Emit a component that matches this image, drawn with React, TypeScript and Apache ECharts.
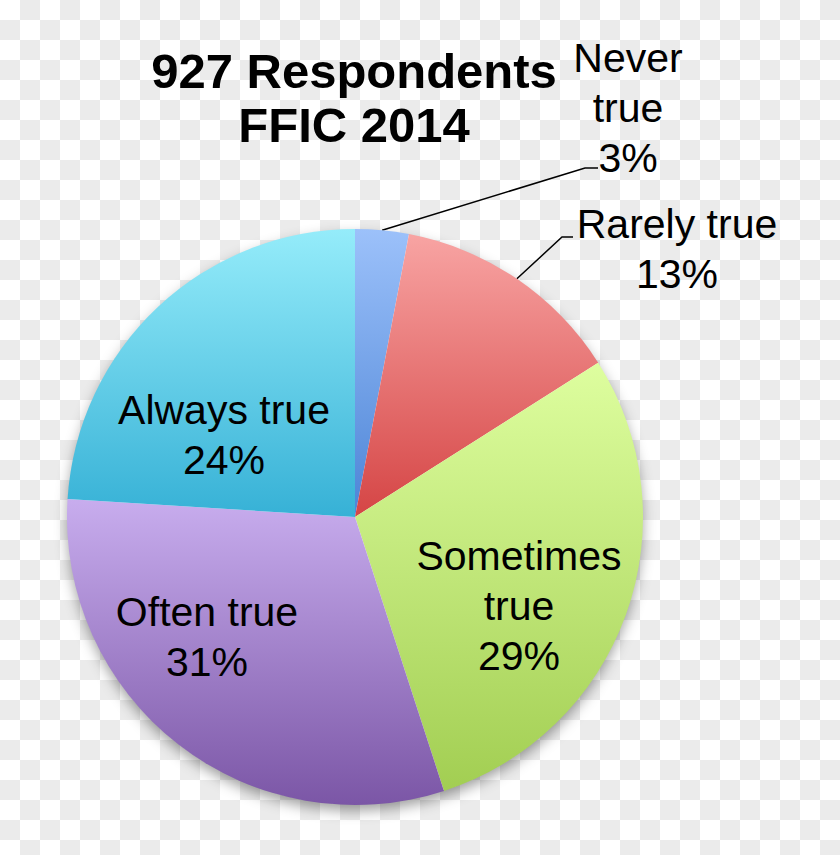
import React, { useEffect, useRef } from "react";
import * as echarts from "echarts";

// slices clockwise from 12 o'clock
const categories = ["Never true", "Rarely true", "Sometimes true", "Often true", "Always true"];
const percents = [3, 13, 29, 31, 24];

const titleText = "927 Respondents\nFFIC 2014";

// top / bottom colour of each slice's gradient
const sliceColors = [
  ["#9cc1fa", "#4c84d6"],
  ["#f8a4a3", "#d54545"],
  ["#defe9f", "#a2ce52"],
  ["#c8adee", "#7b56a6"],
  ["#95ecfa", "#36b1d6"],
];

// label placement (office-style best fit)
const outsideLabel = [true, true, false, false, false];
const wrapName = [true, false, true, false, false];
const labelCenters = [
  [628, 108],
  [677, 249],
  [519, 606],
  [207, 637],
  [224, 435],
];
const leaderBends: (number[][] | null)[] = [
  [
    [585, 168],
    [598, 168],
  ],
  [
    [562, 237],
    [573, 237],
  ],
  null,
  null,
  null,
];

const FONT = "'Liberation Sans', Arial, sans-serif";

export default function App() {
  const chartRef = useRef<HTMLDivElement>(null);

  useEffect(() => {
    if (!chartRef.current) return;
    const chart = echarts.init(chartRef.current, null, { renderer: "svg" });

    const data = categories.map((name, i) => ({
      name,
      value: percents[i],
      itemStyle: {
        color: new echarts.graphic.LinearGradient(0, 0, 0, 1, [
          { offset: 0, color: sliceColors[i][0] },
          { offset: 1, color: sliceColors[i][1] },
        ]),
      },
      label: { position: outsideLabel[i] ? "outside" : "inside" },
      labelLine: { show: outsideLabel[i] },
    }));

    const option = {
      animation: false,
      backgroundColor: "transparent",
      title: {
        text: titleText,
        left: 354,
        top: 44,
        padding: 0,
        textAlign: "center",
        textStyle: {
          fontFamily: FONT,
          fontSize: 49,
          fontWeight: "bold",
          lineHeight: 54,
          color: "#000",
        },
      },
      series: [
        {
          // drop shadow under the whole pie
          type: "pie",
          z: 1,
          silent: true,
          center: [355, 517],
          radius: 287,
          label: { show: false },
          labelLine: { show: false },
          emphasis: { disabled: true },
          itemStyle: {
            color: "#ffffff",
            shadowBlur: 14,
            shadowOffsetY: 6,
            shadowColor: "rgba(0,0,0,0.4)",
          },
          data: [{ value: 1, name: "" }],
        },
        {
          name: "FFIC 2014",
          type: "pie",
          z: 2,
          center: [355, 517],
          radius: 288,
          startAngle: 90,
          clockwise: true,
          avoidLabelOverlap: false,
          emphasis: { disabled: true },
          label: {
            show: true,
            fontFamily: FONT,
            fontSize: 41,
            lineHeight: 50,
            color: "#000",
            formatter: (p: any) => {
              const name = wrapName[p.dataIndex] ? p.name.replace(" ", "\n") : p.name;
              return `${name}\n${p.value}%`;
            },
          },
          labelLine: {
            smooth: false,
            lineStyle: { color: "#000", width: 1.5 },
          },
          labelLayout: (params: any) => {
            const i = params.dataIndex;
            const [x, y] = labelCenters[i];
            const res: any = { x, y, align: "center", verticalAlign: "middle" };
            const bend = leaderBends[i];
            if (bend && params.labelLinePoints && params.labelLinePoints[0]) {
              res.labelLinePoints = [params.labelLinePoints[0], ...bend];
            }
            return res;
          },
          data,
        },
      ],
    };

    chart.setOption(option as any);
    return () => {
      chart.dispose();
    };
  }, []);

  return (
    <div
      style={{
        position: "absolute",
        left: 0,
        top: 0,
        width: 840,
        height: 855,
        background: "repeating-conic-gradient(#ebebeb 0 25%, #ffffff 0 50%) 0 0 / 40px 40px",
      }}
    >
      <div ref={chartRef} style={{ width: "840px", height: "855px" }}></div>
    </div>
  );
}
